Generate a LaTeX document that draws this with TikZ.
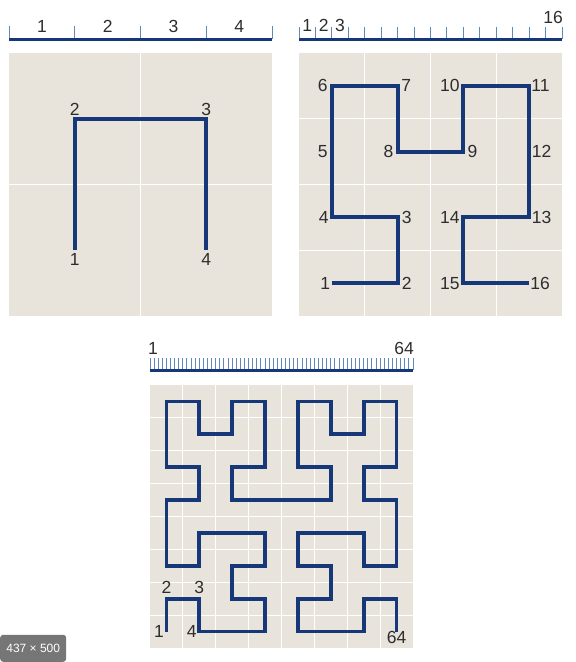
\documentclass[tikz,border=0pt]{standalone}
\usepackage{fontspec}
\setmainfont{Liberation Sans}
\usepackage{tikz}
\usetikzlibrary{positioning}

\definecolor{hilbertblue}{RGB}{22,56,120}
\definecolor{panelbg}{RGB}{232,228,220}
\definecolor{tickblue}{RGB}{100,135,185}
\definecolor{labgray}{RGB}{45,45,45}
\definecolor{badgegray}{RGB}{118,118,118}

\begin{document}
\begin{tikzpicture}[
    x=1pt, y=-1pt,
    panel/.style={fill=panelbg},
    gridline/.style={white, line width=1.2pt},
    hilbertline/.style={hilbertblue, line width=4pt},
    rulerline/.style={hilbertblue, line width=3pt},
    rulertick/.style={tickblue, line width=1pt},
    lab/.style={font=\fontsize{17.5}{20}\selectfont, text=labgray, inner sep=1pt},
    badge/.style={fill=badgegray, text=white, font=\fontsize{12}{14}\selectfont, rounded corners=3pt, minimum width=66pt, minimum height=27pt, inner sep=0pt}
]
\useasboundingbox (0,0) rectangle (576,662);

% Panels and their grids
\fill[panel] (9,53) rectangle (272,316);
\fill[panel] (299,53) rectangle (562,316);
\fill[panel] (150,385) rectangle (413,648);
\draw[gridline] (140.5,53) -- (140.5,316) (9,184.5) -- (272,184.5);
\foreach \k in {1,...,3} {
    \draw[gridline] ({299+\k*65.75},53) -- ({299+\k*65.75},316);
    \draw[gridline] (299,{53+\k*65.75}) -- (562,{53+\k*65.75});
}
\foreach \k in {1,...,7} {
    \draw[gridline] ({150+\k*32.875},385) -- ({150+\k*32.875},648);
    \draw[gridline] (150,{385+\k*32.875}) -- (413,{385+\k*32.875});
}

% Rulers
\draw[rulertick] \foreach \k in {0,...,4} {({9+\k*65.75},26) -- ({9+\k*65.75},39)};
\draw[rulerline] (9,39) -- (272,39);
\foreach \k in {1,...,4}
    \node[lab] (ra\k) at ({9+(\k-0.5)*65.75},26.5) {\k};

\draw[rulertick] \foreach \k in {0,...,16} {({299+\k*16.4375},27) -- ({299+\k*16.4375},39)};
\draw[rulerline] (299,39) -- (562,39);
\foreach \k in {1,...,3}
    \node[lab] (rb\k) at ({299+(\k-0.5)*16.4375},25) {\k};
\node[lab] (rb16) at (553,17.5) {16};

\draw[rulertick] \foreach \k in {0,...,64} {({150+\k*4.109375},358) -- ({150+\k*4.109375},370)};
\draw[rulerline] (150,370) -- (413,370);
\node[lab] (rc1) at (153,348) {1};
\node[lab] (rc64) at (404,348) {64};

% Order 1
\begin{scope}[shift={(74.75,250.25)}, x=131.5pt, y=131.5pt]
\foreach \u/\v [count=\i] in {0/0,0/1,1/1,1/0}
    \coordinate (a\i) at (\u,\v);
\draw[hilbertline] (a1) -- (a2) -- (a3) -- (a4);
\end{scope}
\node[lab, below=2pt of a1] (a1n) {1};
\node[lab, above=2pt of a2] (a2n) {2};
\node[lab, above=2pt of a3] (a3n) {3};
\node[lab, below=2pt of a4] (a4n) {4};

% Order 2
\begin{scope}[shift={(331.875,283.125)}, x=65.75pt, y=65.75pt]
\foreach \u/\v [count=\i] in {0/0,1/0,1/1,0/1,0/2,0/3,1/3,1/2,2/2,2/3,3/3,3/2,3/1,2/1,2/0,3/0}
    \coordinate (b\i) at (\u,\v);
\draw[hilbertline] (b1) \foreach \i in {2,...,16} {-- (b\i)};
\end{scope}
\node[lab, left=0.5pt of b1] (b1n) {1};
\node[lab, right=3pt of b2] (b2n) {2};
\node[lab, right=3pt of b3] (b3n) {3};
\node[lab, left=2pt of b4] (b4n) {4};
\node[lab, left=3pt of b5] (b5n) {5};
\node[lab, left=3pt of b6] (b6n) {6};
\node[lab, right=2.5pt of b7] (b7n) {7};
\node[lab, left=3pt of b8] (b8n) {8};
\node[lab, right=3pt of b9] (b9n) {9};
\node[lab, left=2.5pt of b10] (b10n) {10};
\node[lab, right=1pt of b11] (b11n) {11};
\node[lab, right=1.5pt of b12] (b12n) {12};
\node[lab, right=1.5pt of b13] (b13n) {13};
\node[lab, left=2.5pt of b14] (b14n) {14};
\node[lab, left=2.5pt of b15] (b15n) {15};
\node[lab, right=0pt of b16] (b16n) {16};

% Order 3
\begin{scope}[shift={(166.4375,631.5625)}, x=32.875pt, y=32.875pt]
\foreach \u/\v [count=\i] in {0/0,0/1,1/1,1/0,2/0,3/0,3/1,2/1,2/2,3/2,3/3,2/3,1/3,1/2,0/2,0/3,
    0/4,1/4,1/5,0/5,0/6,0/7,1/7,1/6,2/6,2/7,3/7,3/6,3/5,2/5,2/4,3/4,
    4/4,5/4,5/5,4/5,4/6,4/7,5/7,5/6,6/6,6/7,7/7,7/6,7/5,6/5,6/4,7/4,
    7/3,7/2,6/2,6/3,5/3,4/3,4/2,5/2,5/1,4/1,4/0,5/0,6/0,6/1,7/1,7/0}
    \coordinate (c\i) at (\u,\v);
\draw[hilbertline, line width=3.8pt] (c1) \foreach \i in {2,...,64} {-- (c\i)};
\end{scope}
\node[lab, left=1.4pt of c1] (c1n) {1};
\node[lab, above=4pt of c2] (c2n) {2};
\node[lab, above=4pt of c3] (c3n) {3};
\node[lab, left=1.6pt of c4] (c4n) {4};
\node[lab, below=-1pt of c64] (c64n) {64};

% Image size badge
\node[badge, anchor=south west] (imgsize) at (0,662) {437 × 500};

\end{tikzpicture}
\end{document}
